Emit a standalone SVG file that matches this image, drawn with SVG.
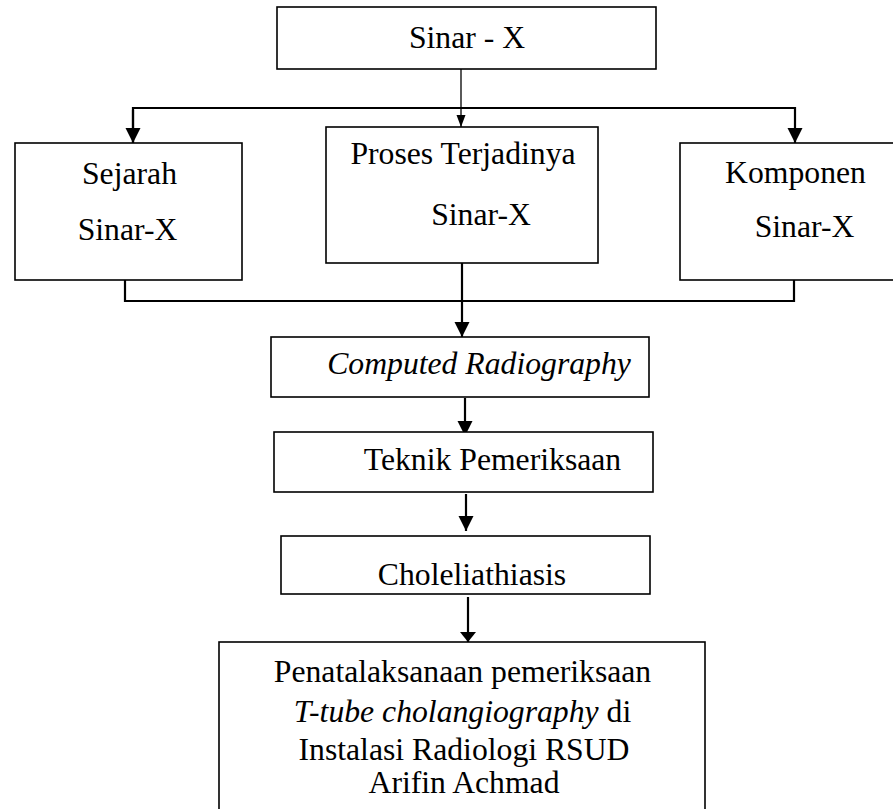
<svg xmlns="http://www.w3.org/2000/svg" width="893" height="809" viewBox="0 0 893 809">
<style>
.box{fill:#fff;stroke:#000;stroke-width:1.6}
.t{font-family:"Liberation Serif","Times New Roman",serif;font-size:31.7px;fill:#000;text-anchor:middle}
.i{font-style:italic}
.c{fill:none;stroke:#000;stroke-width:2.2}
.c1{fill:none;stroke:#000;stroke-width:1.3}
</style>
<defs>
<marker id="arr" markerUnits="userSpaceOnUse" markerWidth="16" markerHeight="16" refX="15" refY="8" orient="auto" viewBox="0 0 16 16">
<path d="M0,0.5 L15,8 L0,15.5 z" fill="#000"/>
</marker>
<marker id="arrS" markerUnits="userSpaceOnUse" markerWidth="12" markerHeight="10" refX="12" refY="5" orient="auto" viewBox="0 0 12 10">
<path d="M0,0.5 L12,5 L0,9.5 z" fill="#000"/>
</marker>
<marker id="arrF" markerUnits="userSpaceOnUse" markerWidth="10" markerHeight="16" refX="10" refY="8" orient="auto" viewBox="0 0 10 16">
<path d="M0,0 L10,8 L0,16 z" fill="#000"/>
</marker>
</defs>
<rect width="893" height="809" fill="#fff"/>
<g id="connectors">
<line class="c1" x1="461" y1="69" x2="461" y2="127" marker-end="url(#arrS)"/>
<polyline class="c" points="133,143 133,108 795,108 795,143" marker-end="url(#arr)"/>
<line class="c" x1="133" y1="110" x2="133" y2="143" marker-end="url(#arr)"/>
<polyline class="c" points="125,280 125,301 794,301 794,280"/>
<line class="c" x1="462" y1="263" x2="462" y2="337" marker-end="url(#arr)"/>
<line class="c" x1="465" y1="398" x2="465" y2="436" marker-end="url(#arr)"/>
<line class="c" x1="466" y1="494" x2="466" y2="531" marker-end="url(#arr)"/>
<line class="c" x1="468" y1="597" x2="468" y2="642" marker-end="url(#arrF)"/>
</g>
<g id="sinar-x">
<rect class="box" x="277" y="7" width="379" height="62"/>
<text class="t" x="467" y="48">Sinar - X</text>
</g>
<g id="sejarah">
<rect class="box" x="15" y="143" width="227" height="137"/>
<text class="t" x="129.5" y="184">Sejarah</text>
<text class="t" x="127.5" y="240">Sinar-X</text>
</g>
<g id="proses">
<rect class="box" x="326" y="127" width="272" height="136"/>
<text class="t" x="463" y="164">Proses Terjadinya</text>
<text class="t" x="481" y="225">Sinar-X</text>
</g>
<g id="komponen">
<rect class="box" x="680" y="143" width="230" height="137"/>
<text class="t" x="795.5" y="183">Komponen</text>
<text class="t" x="804.5" y="237">Sinar-X</text>
</g>
<g id="computed">
<rect class="box" x="271" y="337" width="378" height="60"/>
<text class="t i" x="479" y="374">Computed Radiography</text>
</g>
<g id="teknik">
<rect class="box" x="274" y="432" width="379" height="60"/>
<text class="t" x="492.5" y="470">Teknik Pemeriksaan</text>
</g>
<g id="choleliathiasis">
<rect class="box" x="281" y="536" width="369" height="58"/>
<text class="t" x="472" y="585">Choleliathiasis</text>
</g>
<g id="penatalaksanaan">
<rect class="box" x="219" y="642" width="486" height="200"/>
<text class="t" x="462.5" y="682">Penatalaksanaan pemeriksaan</text>
<text class="t" x="462.5" y="722"><tspan class="i">T-tube cholangiography</tspan> di</text>
<text class="t" x="464" y="760">Instalasi Radiologi RSUD</text>
<text class="t" x="464" y="793">Arifin Achmad</text>
</g>
</svg>
